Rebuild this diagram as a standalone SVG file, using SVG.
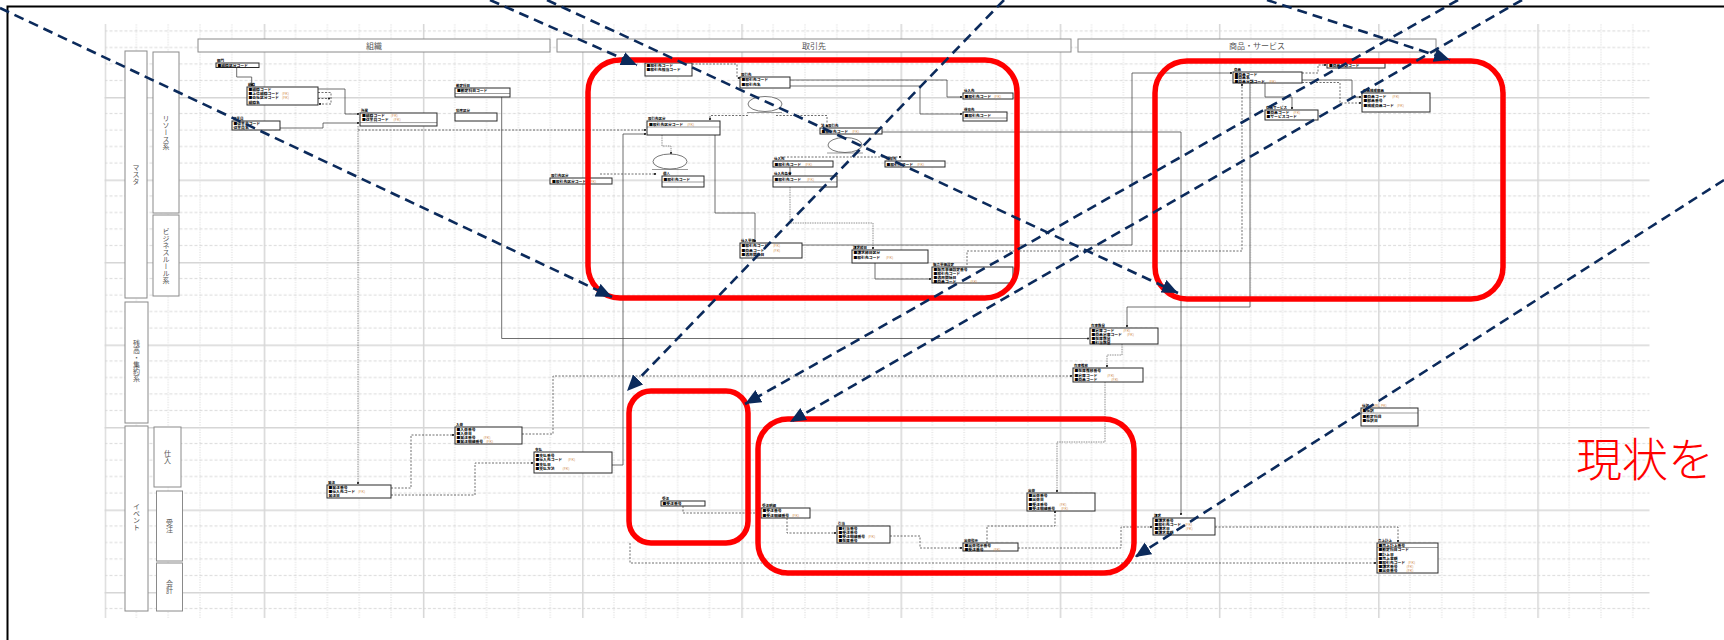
<svg xmlns="http://www.w3.org/2000/svg" width="1724" height="640" viewBox="0 0 1724 640">
<style>
.hb{fill:#fff;stroke:#8a8a8a;stroke-width:1}
.ht{font-family:"Noto Sans CJK JP","Noto Sans CJK SC",sans-serif;font-size:8px;fill:#555;text-anchor:middle}
.vt{font-family:"Noto Sans CJK JP","Noto Sans CJK SC",sans-serif;font-size:7px;fill:#555;writing-mode:vertical-rl;text-anchor:middle}
.ent rect{fill:#fff;stroke:#2a2a2a;stroke-width:1}
.ent text{font-family:"Noto Sans CJK JP","Noto Sans CJK SC",sans-serif;font-size:3.8px;font-weight:bold;fill:#000}
.ent .t{font-size:3.5px}
.ent .fk{fill:#d08a4a;font-weight:normal}
.sep{stroke:#3a3a3a;stroke-width:0.5}
.c{fill:none;stroke:#4a4a4a;stroke-width:0.8;marker-end:url(#dot)}
.d{stroke-dasharray:2 1.5}
.o{stroke-dasharray:0.8 0.9}
.el{fill:#fff;stroke:#555;stroke-width:0.8}
.ul{stroke:#555;stroke-width:0.6}
.red{fill:none;stroke:#ff0000;stroke-width:5.5}
.ar{fill:none;stroke:#0b2a5b;stroke-width:2.6;stroke-dasharray:10 6;marker-end:url(#ah)}
</style>
<defs>
<pattern id="grid" x="104.5" y="97" width="159.2" height="82.5" patternUnits="userSpaceOnUse">
<g stroke="#c9c9c9" stroke-width="0.8" stroke-dasharray="1 1.5">
<line x1="31.84" y1="0" x2="31.84" y2="82.5"/><line x1="63.68" y1="0" x2="63.68" y2="82.5"/><line x1="95.52" y1="0" x2="95.52" y2="82.5"/><line x1="127.36" y1="0" x2="127.36" y2="82.5"/>
</g>
<g stroke="#cfcfcf" stroke-width="0.8" stroke-dasharray="3 2">
<line x1="0" y1="16.5" x2="159.2" y2="16.5"/><line x1="0" y1="33" x2="159.2" y2="33"/><line x1="0" y1="49.5" x2="159.2" y2="49.5"/><line x1="0" y1="66" x2="159.2" y2="66"/>
</g>
<g stroke="#d6d6d6" stroke-width="1.5">
<line x1="0.75" y1="0" x2="0.75" y2="82.5"/><line x1="0" y1="0.75" x2="159.2" y2="0.75"/>
</g>
</pattern>
<marker id="dot" markerWidth="3" markerHeight="3" refX="1.5" refY="1.5" markerUnits="userSpaceOnUse"><circle cx="1.5" cy="1.5" r="1.1" fill="#222"/></marker>
<marker id="ah" markerWidth="17" markerHeight="15" refX="16" refY="7" orient="auto" markerUnits="userSpaceOnUse"><path d="M0,0 L16,7 L0,14 z" fill="#0b2a5b"/></marker>
</defs>

<rect x="0" y="0" width="1724" height="640" fill="#fff"/>
<rect x="7.5" y="6.5" width="1800" height="700" fill="none" stroke="#000" stroke-width="2"/>

<rect id="grid-area" x="104.5" y="24" width="1545" height="594" fill="url(#grid)"/>

<g id="headers">
<g id="h-soshiki"><rect class="hb" x="198" y="39" width="352" height="13"/><text class="ht" x="374" y="48.5">組織</text></g>
<g id="h-torihikisaki"><rect class="hb" x="557" y="39" width="514" height="13"/><text class="ht" x="814" y="48.5">取引先</text></g>
<g id="h-shohin"><rect class="hb" x="1078" y="39" width="358" height="13"/><text class="ht" x="1257" y="48.5">商品・サービス</text></g>
</g>

<g id="lanes">
<g id="l-master"><rect class="hb" x="125" y="51" width="22" height="247"/><text class="vt" x="136" y="174">マスタ</text></g>
<g id="l-resource"><rect class="hb" x="153" y="52" width="26" height="161"/><text class="vt" x="166" y="132">リソース系</text></g>
<g id="l-rule"><rect class="hb" x="153" y="215" width="26" height="81"/><text class="vt" x="166" y="256">ビジネスルール系</text></g>
<g id="l-balance"><rect class="hb" x="125" y="302" width="23" height="121"/><text class="vt" x="136.5" y="361">残高・集約系</text></g>
<g id="l-event"><rect class="hb" x="125" y="426" width="23" height="185"/><text class="vt" x="136.5" y="517">イベント</text></g>
<g id="l-shiire"><rect class="hb" x="154" y="427" width="27" height="60"/><text class="vt" x="167.5" y="457">仕入</text></g>
<g id="l-juchu"><rect class="hb" x="156.5" y="491" width="26" height="70"/><text class="vt" x="169.5" y="526">受注</text></g>
<g id="l-kaikei"><rect class="hb" x="156.5" y="563" width="26" height="48"/><text class="vt" x="169.5" y="587">会計</text></g>
</g>

<g id="er-connectors">
<path class="c" d="M236.7,67 V77 H251.7 V85"/>
<path class="c" d="M318,89 H345 V114 H358"/>
<path class="c" d="M280,128 H323 V123 H358"/>
<path class="c d" d="M318,92.5 H331 V104 H320"/>
<path class="c d" d="M318,98.5 H329"/>
<path class="c" d="M501.7,97 V338.5 H1088"/>
<path class="c o" d="M358,126 V483"/>
<path class="c d" d="M358,130 H645"/>
<path class="c" d="M612,465 H623 V134 H645"/>
<path class="c d" d="M692,64 H737 V78 H739"/>
<path class="c" d="M790,80 H947 V97 H961"/>
<path class="c" d="M790,86 H920 V114 H961"/>
<path class="c d" d="M748,115.5 H710 V119"/>
<path class="c d" d="M776,115.5 H827 V126"/>
<path class="c o" d="M662,135 V146 H671 V153"/>
<path class="c d" d="M600,174 H655"/>
<path class="c d" d="M780,157 H900"/>
<path class="c" d="M882,132 H1181 V514"/>
<path class="c" d="M790,167 V174"/>
<path class="c" d="M715,135 V213 H755 V241"/>
<path class="c o" d="M790,187 V223 H873 V248"/>
<path class="c" d="M802,245 H1132 V73 H1231"/>
<path class="c" d="M875,263 V279 H930"/>
<path class="c d" d="M967,265 V251 H1242 V85"/>
<path class="c d" d="M1302,73 H1318 V65 H1325"/>
<path class="c" d="M1302,80 H1352 V97 H1360"/>
<path class="c d" d="M1302,82.5 H1340 V103 H1360"/>
<path class="c" d="M1265,83 V97 H1292 V108"/>
<path class="c" d="M1250,83 V307 H1127 V326"/>
<path class="c o" d="M1122,344 V355 H1107 V366"/>
<path class="c o" d="M1105,382 V442 H1057 V491"/>
<path class="c d" d="M522,434 H553 V376 H1071"/>
<path class="c d" d="M391,488 H411 V435 H453"/>
<path class="c d" d="M391,495 H475 V463 H532"/>
<path class="c d" d="M683,506 V513 H759"/>
<path class="c d" d="M787,518 V533 H835"/>
<path class="c d" d="M890,536 H920 V548 H961"/>
<path class="c d" d="M1018,548 H1121 V527 H1151"/>
<path class="c d" d="M1215,527 H1398 V541"/>
<path class="c d" d="M987,543 V526 H1055 V512"/>
<path class="c d" d="M630,543 V563 H1375"/>
</g>

<g id="ellipses">
<ellipse class="el" cx="765" cy="104" rx="17" ry="7.5"/><line class="ul" x1="747" y1="112.5" x2="782" y2="112.5"/>
<ellipse class="el" cx="670" cy="161.5" rx="17" ry="7.5"/><line class="ul" x1="652" y1="169.5" x2="688" y2="169.5"/>
<ellipse class="el" cx="845" cy="145" rx="17" ry="7.5"/><line class="ul" x1="827" y1="153" x2="863" y2="153"/>
</g>

<g id="e-bumon" class="ent"><text class="t" x="217" y="62">部門</text><rect x="216" y="63" width="43" height="4.5"/><text x="217.5" y="66.6">■組織区分コード</text></g>
<g id="e-soshiki" class="ent"><text class="t" x="248" y="86">組織</text><rect x="247" y="87" width="71" height="18"/><text x="248.5" y="91">■組織コード</text><text x="248.5" y="95.2">■上位組織コード<tspan class="fk" dx="3">(FK)</tspan></text><text x="248.5" y="99.4">■会社区分コード<tspan class="fk" dx="3">(FK)</tspan></text><text x="248.5" y="103.6">組織名</text></g>
<g id="e-shozoku" class="ent"><text class="t" x="361" y="112">所属</text><rect x="360" y="113" width="77" height="13"/><text x="362" y="117">■組織コード<tspan class="fk" dx="6">(FK)</tspan></text><text x="362" y="121.2">■従業員コード<tspan class="fk" dx="5">(FK)</tspan></text><line class="sep" x1="360" y1="122.6" x2="437" y2="122.6"/></g>
<g id="e-jugyoin" class="ent"><text class="t" x="233" y="120">従業員</text><rect x="232" y="121" width="48" height="9"/><text x="233.5" y="125">■従業員コード</text><text x="233.5" y="129">従業員名</text></g>
<g id="e-kanjo" class="ent"><text class="t" x="456" y="87">勘定科目</text><rect x="455" y="88" width="55" height="9"/><text x="457" y="92">■勘定科目コード</text><line class="sep" x1="455" y1="93.5" x2="510" y2="93.5"/></g>
<g id="e-zeiritsu" class="ent"><text class="t" x="456" y="112">税率区分</text><rect x="455" y="113" width="42" height="8"/></g>

<g id="e-hatchu" class="ent"><text class="t" x="328" y="483.5">発注</text><rect x="327" y="485" width="64" height="13"/><text x="328.5" y="489">■発注番号</text><text x="328.5" y="493">■仕入先コード<tspan class="fk" dx="3">(FK)</tspan></text><text x="328.5" y="497">発注日</text></g>
<g id="e-nyuka" class="ent"><text class="t" x="456" y="425.5">入荷</text><rect x="455" y="427" width="67" height="17"/><text x="456.5" y="431">■入荷番号</text><text x="456.5" y="435">■入荷日</text><text x="456.5" y="439">■発注番号<tspan class="fk" dx="8">(FK)</tspan></text><text x="456.5" y="443">■発注明細番号<tspan class="fk" dx="3">(FK)</tspan></text></g>
<g id="e-shiharai" class="ent"><text class="t" x="535" y="450.5">支払</text><rect x="534" y="452" width="78" height="21"/><text x="535.5" y="456.5">■支払番号</text><text x="535.5" y="461">■仕入先コード<tspan class="fk" dx="6">(FK)</tspan></text><text x="535.5" y="465.5">■支払日</text><text x="535.5" y="470">■支払方法<tspan class="fk" dx="8">(FK)</tspan></text></g>

<g id="e-torikubun" class="ent"><text class="t" x="551" y="176.5">取引先区分</text><rect x="550" y="178" width="62" height="6"/><text x="552" y="182.5">■取引先区分コード<tspan class="fk" dx="3">(FK)</tspan></text></g>
<g id="e-tanto" class="ent"><rect x="645" y="63" width="47" height="13"/><text x="646.5" y="67">■取引先コード</text><text x="646.5" y="71">■取引先担当コード</text></g>
<g id="e-torihikisaki" class="ent"><text class="t" x="741" y="75.5">取引先</text><rect x="740" y="77" width="50" height="11"/><text x="741.5" y="81">■取引先コード</text><text x="741.5" y="85.5">■取引先名</text></g>
<g id="e-shiiresaki" class="ent"><text class="t" x="964" y="91.5">仕入先</text><rect x="963" y="93" width="50" height="6"/><text x="964.5" y="97.5">■取引先コード<tspan class="fk" dx="3">(FK)</tspan></text></g>
<g id="e-tokuisaki" class="ent"><text class="t" x="964" y="110.5">得意先</text><rect x="963" y="112" width="44" height="9"/><text x="964.5" y="116.5">■取引先コード</text><line class="sep" x1="963" y1="118" x2="1007" y2="118"/></g>
<g id="e-kubun" class="ent"><text class="t" x="648" y="119.5">取引先区分</text><rect x="647" y="121" width="73" height="14"/><text x="649" y="125.5">■取引先区分コード<tspan class="fk" dx="4">(FK)</tspan></text><line class="sep" x1="647" y1="127" x2="720" y2="127"/></g>
<g id="e-hojin" class="ent"><text class="t" x="821" y="126.5">法人取引先</text><rect x="820" y="128" width="62" height="6"/><text x="821.5" y="132.5">■取引先コード<tspan class="fk" dx="4">(FK)</tspan></text></g>
<g id="e-shiire2" class="ent"><text class="t" x="774" y="159.5">仕入先</text><rect x="773" y="161" width="60" height="6"/><text x="774.5" y="165.5">■取引先コード<tspan class="fk" dx="4">(FK)</tspan></text></g>
<g id="e-tokui2" class="ent"><text class="t" x="886" y="159.5">得意先</text><rect x="885" y="161" width="60" height="6"/><text x="886.5" y="165.5">■取引先コード<tspan class="fk" dx="4">(FK)</tspan></text></g>
<g id="e-joken" class="ent"><text class="t" x="774" y="174.5">仕入先条件</text><rect x="773" y="176" width="64" height="11"/><text x="774.5" y="180.5">■取引先コード<tspan class="fk" dx="6">(FK)</tspan></text><line class="sep" x1="773" y1="182" x2="837" y2="182"/></g>
<g id="e-kojin" class="ent"><text class="t" x="663" y="174.5">個人</text><rect x="662" y="176" width="42" height="11"/><text x="663.5" y="180.5">■取引先コード</text><line class="sep" x1="662" y1="182" x2="704" y2="182"/></g>
<g id="e-shiiretanka" class="ent"><text class="t" x="741" y="241.5">仕入単価</text><rect x="740" y="243" width="62" height="15"/><text x="741.5" y="247">■取引先コード<tspan class="fk" dx="5">(FK)</tspan></text><text x="741.5" y="251.5">■商品コード<tspan class="fk" dx="9">(FK)</tspan></text><text x="741.5" y="256">■適用開始日</text></g>
<g id="e-shimebi" class="ent"><text class="t" x="853" y="248.5">請求締日</text><rect x="852" y="250" width="76" height="13"/><text x="853.5" y="254">■請求締日区分</text><text x="853.5" y="258.5">■取引先コード<tspan class="fk" dx="6">(FK)</tspan></text></g>
<g id="e-hanbaitanka" class="ent"><text class="t" x="933" y="265.5">販売単価設定</text><rect x="932" y="267" width="81" height="16"/><text x="933.5" y="271">■販売単価設定番号</text><text x="933.5" y="275">■取引先コード</text><text x="933.5" y="279">■適用開始日</text><text x="933.5" y="282.6">■商品コード<tspan class="fk" dx="14">(FK)</tspan></text></g>

<g id="e-shohin" class="ent"><text class="t" x="1234" y="70.5">商品</text><rect x="1233" y="72" width="69" height="11"/><text x="1234.5" y="75.8">■商品コード</text><text x="1234.5" y="79.3">■商品名</text><text x="1234.5" y="82.6">■商品分類コード<tspan class="fk" dx="4">(FK)</tspan></text></g>
<g id="e-bunrui" class="ent"><rect x="1327" y="63" width="58" height="5"/><text x="1329" y="67">■商品分類コード</text></g>
<g id="e-kosei" class="ent"><text class="t" x="1363" y="91.5">商品構成部品</text><rect x="1362" y="93" width="68" height="19"/><text x="1363.5" y="97.5">■商品コード<tspan class="fk" dx="6">(FK)</tspan></text><text x="1363.5" y="102">■部品番号</text><text x="1363.5" y="106.5">■構成商品コード<tspan class="fk" dx="3">(FK)</tspan></text></g>
<g id="e-service" class="ent"><text class="t" x="1266" y="108.5">商品サービス</text><rect x="1265" y="110" width="53" height="10"/><text x="1266.5" y="114">■商品コード<tspan class="fk" dx="4">(FK)</tspan></text><text x="1266.5" y="118.3">■サービスコード</text></g>

<g id="e-zaiko" class="ent"><text class="t" x="1091" y="326.5">在庫数量</text><rect x="1090" y="328" width="68" height="16"/><text x="1091.5" y="331.8">■倉庫コード<tspan class="fk" dx="9">(FK)</tspan></text><text x="1091.5" y="335.8">■商品倉庫コード<tspan class="fk" dx="5">(FK)</tspan></text><text x="1091.5" y="339.8">■在庫数量</text><text x="1091.5" y="343.5">■引当数量</text></g>
<g id="e-suii" class="ent"><text class="t" x="1074" y="366.5">在庫推移</text><rect x="1073" y="368" width="70" height="14"/><text x="1074.5" y="372">■在庫推移番号</text><text x="1074.5" y="376.5">■倉庫コード<tspan class="fk" dx="10">(FK)</tspan></text><text x="1074.5" y="381">■商品コード<tspan class="fk" dx="14">(FK)</tspan></text></g>
<g id="e-shukka" class="ent"><text class="t" x="1028" y="491.5">出荷</text><rect x="1027" y="493" width="68" height="18"/><text x="1028.5" y="497">■出荷番号</text><text x="1028.5" y="501.3">■出荷日</text><text x="1028.5" y="505.6">■受注番号<tspan class="fk" dx="12">(FK)</tspan></text><text x="1028.5" y="509.9">■受注明細番号<tspan class="fk" dx="6">(FK)</tspan></text></g>
<g id="e-seikyu" class="ent"><text class="t" x="1154" y="516.5">請求</text><rect x="1153" y="518" width="62" height="17"/><text x="1154.5" y="522">■請求番号</text><text x="1154.5" y="526">■取引先コード<tspan class="fk" dx="4">(FK)</tspan></text><text x="1154.5" y="530">■請求日<tspan class="fk" dx="16">(FK)</tspan></text><text x="1154.5" y="534">■請求金額</text></g>
<g id="e-uriage" class="ent"><text class="t" x="1378" y="541.5">売上計上</text><rect x="1377" y="543" width="61" height="30"/><line class="sep" x1="1377" y1="547.5" x2="1438" y2="547.5"/><text x="1378.5" y="547">■売上計上番号</text><text x="1378.5" y="551.3">■勘定科目コード</text><text x="1378.5" y="555.5">■計上日</text><text x="1378.5" y="559.7">■売上金額</text><text x="1378.5" y="563.9">■取引先コード<tspan class="fk" dx="3">(FK)</tspan></text><text x="1378.5" y="568.1">■請求番号<tspan class="fk" dx="9">(FK)</tspan></text><text x="1378.5" y="572.3">■出荷番号<tspan class="fk" dx="9">(FK)</tspan></text></g>
<g id="e-shiwake" class="ent"><text class="t" x="1362" y="406.5">仕訳<tspan class="fk" dx="3">(ERL, PK)</tspan></text><rect x="1361" y="408" width="57" height="18"/><line class="sep" x1="1361" y1="413" x2="1418" y2="413"/><text x="1362.5" y="412.3">■仕訳</text><text x="1362.5" y="417.5">■勘定科目</text><text x="1362.5" y="422">■仕訳日</text></g>

<g id="e-juchu" class="ent"><text class="t" x="662" y="499.5">受注</text><rect x="661" y="501" width="44" height="5"/><text x="662.5" y="505">■受注番号</text></g>
<g id="e-juchumeisai" class="ent"><text class="t" x="762" y="506.5">受注明細</text><rect x="761" y="508" width="49" height="10"/><text x="762.5" y="512">■受注番号</text><text x="762.5" y="516.5">■受注明細番号<tspan class="fk" dx="3">(FK)</tspan></text></g>
<g id="e-hikiate" class="ent"><text class="t" x="838" y="524.5">引当</text><rect x="837" y="526" width="53" height="17"/><text x="838.5" y="530">■引当番号</text><text x="838.5" y="534">■受注番号</text><text x="838.5" y="538">■受注明細番号<tspan class="fk" dx="3">(FK)</tspan></text><text x="838.5" y="542">■在庫番号</text></g>
<g id="e-shukkashiji" class="ent"><text class="t" x="964" y="541.5">出荷指示</text><rect x="963" y="543" width="55" height="8"/><text x="964.5" y="546.8">■出荷指示番号</text><text x="964.5" y="550.5">■受注番号<tspan class="fk" dx="10">(FK)</tspan></text></g>

<g id="focus-torihikisaki"><rect class="red" x="588" y="60" width="429" height="238" rx="32"/></g>
<g id="focus-shohin"><rect class="red" x="1155" y="61" width="348" height="238" rx="32"/></g>
<g id="focus-juchu"><rect class="red" x="629" y="391" width="119" height="152" rx="22"/></g>
<g id="focus-shukka"><rect class="red" x="758" y="419" width="376" height="154" rx="30"/></g>

<g id="arrows">
<line class="ar" x1="0" y1="8" x2="612" y2="297"/>
<line class="ar" x1="490" y1="0" x2="637" y2="65"/>
<line class="ar" x1="547" y1="0" x2="1178" y2="293"/>
<line class="ar" x1="1267" y1="0" x2="1450" y2="60"/>
<line class="ar" x1="1004" y1="0" x2="627" y2="391"/>
<line class="ar" x1="1458" y1="0" x2="745" y2="404"/>
<line class="ar" x1="1522" y1="0" x2="790" y2="422"/>
<line class="ar" x1="1724" y1="180" x2="1135" y2="557"/>
</g>

<text id="caption" x="1576" y="476" font-family="'Noto Sans CJK JP','Noto Sans CJK SC',sans-serif" font-size="46" font-weight="300" fill="#ff0000">現状を</text>
</svg>
